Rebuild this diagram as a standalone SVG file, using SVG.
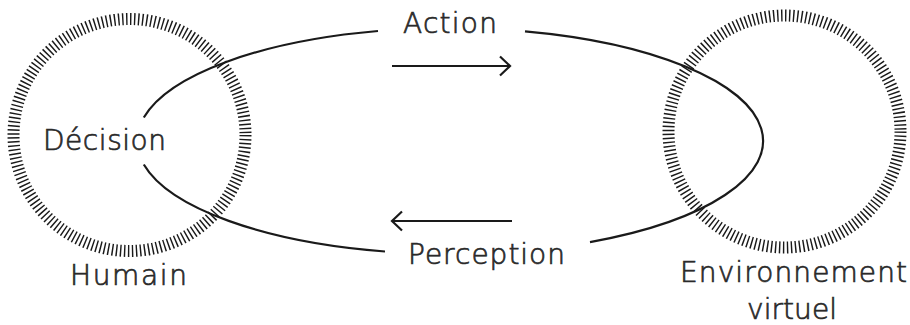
<svg xmlns="http://www.w3.org/2000/svg" width="910" height="325" viewBox="0 0 910 325">
  <style>
    .ring { fill: none; stroke: #1a1a1a; stroke-width: 12; stroke-dasharray: 1.45 2.5992; }
    .loop { fill: none; stroke: #1a1a1a; stroke-width: 2.2; stroke-linecap: butt; }
    .arrow { fill: none; stroke: #1a1a1a; stroke-width: 2.2; }
    .head { fill: none; stroke: #1a1a1a; stroke-width: 2.2; stroke-linejoin: miter; }
    .lbl { font-family: "DejaVu Sans", "Noto Sans", "Liberation Sans", sans-serif; font-size: 28px; font-weight: 300; fill: #2a2a2a; stroke: #2a2a2a; stroke-width: 0.7; text-anchor: middle; }
  </style>
  <rect width="910" height="325" fill="#ffffff"/>

  <g id="humain">
    <circle class="ring" cx="129.5" cy="135" r="116"/>
    <text class="lbl" x="104.5" y="150" textLength="123">Décision</text>
    <text class="lbl" x="128.5" y="285" textLength="117">Humain</text>
  </g>

  <g id="environnement">
    <circle class="ring" cx="784.5" cy="131.5" r="116"/>
    <text class="lbl" x="793.5" y="282" textLength="227">Environnement</text>
    <text class="lbl" x="792" y="319" textLength="90">virtuel</text>
  </g>

  <g id="connectors">
    <path class="loop" d="M 143.8 117.5 A 313 113 0 0 1 378 31"/>
    <path class="loop" d="M 525 31.3 A 313 113 0 0 1 590 242.1"/>
    <path class="loop" d="M 385 251.5 A 313 113 0 0 1 143.8 164.5"/>
    <g id="action-arrow">
      <line class="arrow" x1="392" y1="66" x2="510" y2="66"/>
      <polyline class="head" points="500,56.5 510,66 500,75.5"/>
    </g>
    <g id="perception-arrow">
      <line class="arrow" x1="392" y1="221" x2="512" y2="221"/>
      <polyline class="head" points="402,211.5 392,221 402,230.5"/>
    </g>
  </g>

  <g id="action">
    <text class="lbl" x="450" y="33" textLength="94">Action</text>
  </g>
  <g id="perception">
    <text class="lbl" x="486.5" y="264" textLength="157">Perception</text>
  </g>
</svg>
